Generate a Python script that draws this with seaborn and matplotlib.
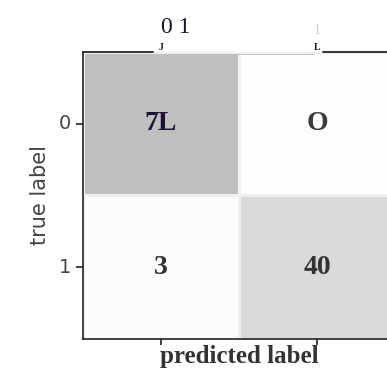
import matplotlib
matplotlib.use("Agg")
import matplotlib.pyplot as plt
from matplotlib.colors import LinearSegmentedColormap
import seaborn as sns
import numpy as np

# confusion matrix values
cm = np.array([[71, 0],
               [3, 40]])
cell_text = np.array([["7L", "O"],
                      ["3", "40"]])
cell_colors = [["#1c1233", "#3a3a3a"],
               ["#333333", "#333333"]]
row_labels = ["0", "1"]
top_labels = ["0 1", "1"]
top_marks = ["J", "L"]

sns.set_style("white")
plt.rcParams['font.family'] = ['DejaVu Sans']

cmap = LinearSegmentedColormap.from_list("lightgrey", ["#fdfdfd", "#bfbfbf"])

fig = plt.figure(figsize=(3.87, 3.71), dpi=100)
ax = fig.add_axes([0.2145, 0.0863, 0.806, 0.7736])
sns.heatmap(cm, annot=False, cmap=cmap, vmin=0, vmax=71, cbar=False,
            linewidths=0.8, linecolor="#f0f0f0", ax=ax)

for i in range(cm.shape[0]):
    for j in range(cm.shape[1]):
        ax.text(j + 0.5, i + 0.5, cell_text[i, j], ha="center", va="center",
                fontsize=20, fontweight="bold", family="Liberation Serif",
                color=cell_colors[i][j])

# left / bottom spines
for side in ["left", "bottom"]:
    ax.spines[side].set_visible(True)
    ax.spines[side].set_color("#222222")
    ax.spines[side].set_linewidth(1.2)
ax.spines["top"].set_visible(False)
ax.spines["right"].set_visible(False)

# broken top edge
ax.axhline(0, xmin=0, xmax=0.225, color="#222222", lw=1.3, clip_on=False)
ax.axhline(0, xmin=0.77, xmax=1, color="#222222", lw=1.3, clip_on=False)
ax.axhline(0.015, xmin=0.25, xmax=0.74, color="#bbbbbb", lw=0.6, clip_on=False)

ax.set_xticks([0.5, 1.5])
ax.set_xticklabels(["", ""])
ax.set_yticks([0.5, 1.5])
ax.set_yticklabels(row_labels, rotation=0, fontsize=14, color="#444444")
ax.tick_params(axis="both", which="both", direction="out", length=5,
               width=1.2, color="#222222", bottom=True, left=True)
ax.tick_params(axis="x", length=4)

ax.set_ylabel("true label", fontsize=15, color="#444444", labelpad=6)
ax.set_xlabel("predicted label", fontsize=18, fontweight="bold",
              family="Liberation Serif", color="#333333", labelpad=-3)

# small marks at the top ticks
top = ax.secondary_xaxis("top")
top.set_xticks([0.5, 1.5])
top.set_xticklabels(top_marks, fontsize=7, fontweight="bold",
                    family="Liberation Serif", color="#1c1233")
top.tick_params(length=0, pad=0)
top.spines["top"].set_visible(False)

# labels above
ax.text(0.5, 1.085, top_labels[0], transform=ax.get_xaxis_transform(),
        ha="left", va="center", fontsize=17, family="Liberation Serif",
        color="#151530")
ax.text(1.5, 1.075, top_labels[1], transform=ax.get_xaxis_transform(),
        ha="center", va="center", fontsize=10, family="Liberation Serif",
        color="#cccccc")

plt.savefig("out.png", dpi=100)
